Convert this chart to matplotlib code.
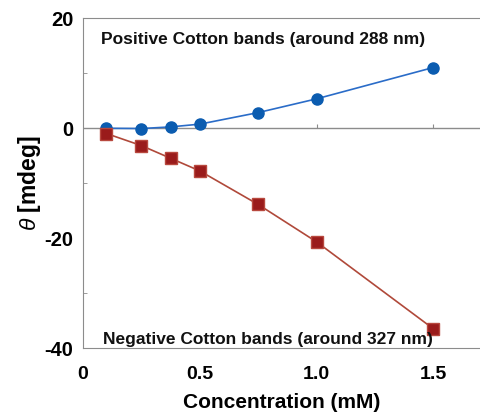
import matplotlib
matplotlib.use('Agg')
import matplotlib.pyplot as plt
from matplotlib.ticker import MultipleLocator

plt.rcParams['font.family'] = ['Liberation Sans', 'DejaVu Sans']
plt.rcParams['font.weight'] = 'bold'
plt.rcParams['axes.unicode_minus'] = False
plt.rcParams['mathtext.fontset'] = 'custom'
plt.rcParams['mathtext.it'] = 'Liberation Sans:italic:weight=normal'
plt.rcParams['mathtext.rm'] = 'Liberation Sans:weight=normal'
plt.rcParams['mathtext.bf'] = 'Liberation Sans:weight=bold'

# data
conc = [0.1, 0.25, 0.375, 0.5, 0.75, 1.0, 1.5]
positive = [-0.05, -0.1, 0.2, 0.7, 2.8, 5.3, 11.0]
negative = [-1.0, -3.2, -5.5, -7.8, -13.9, -20.7, -36.5]
xticks = [0, 0.5, 1.0, 1.5]
xticklabels = ['0', '0.5', '1.0', '1.5']
yticks = [-40, -20, 0, 20]

fig = plt.figure(figsize=(4.8, 4.12), dpi=100)
ax = fig.add_axes([83/480, 1-348/412, (480-83)/480, (348-18)/412])

gray = '#8c8c8c'
ax.axhline(0, color=gray, lw=1, zorder=1)

ax.plot(conc, positive, color='#2a6cc8', lw=1.2, marker='o', ms=8,
        mfc='#0b5cb0', mec='#0b5cb0', zorder=3)
ax.plot(conc, negative, color='#b0493a', lw=1.2, marker='s', ms=8,
        mfc='#9a1b1b', mec='#b8483e', zorder=3)

ax.set_xlim(0, 1.7)
ax.set_ylim(-40, 20)
ax.set_xticks(xticks)
ax.set_xticklabels(xticklabels)
ax.set_yticks(yticks)
ax.yaxis.set_minor_locator(MultipleLocator(10))
ax.tick_params(axis='x', length=0, labelsize=14, pad=13)
ax.tick_params(axis='y', which='major', length=0, labelsize=14.5, pad=7)
ax.tick_params(axis='y', which='minor', direction='in', length=3, color=gray)

# ticks on the zero line
sec = ax.secondary_xaxis(40/60)
for s in sec.spines.values():
    s.set_visible(False)
sec.set_xticks(xticks[1:])
sec.tick_params(direction='out', length=3, color=gray,
                labeltop=False, labelbottom=False)

for s in ['left', 'top', 'bottom']:
    ax.spines[s].set_color(gray)
ax.spines['right'].set_visible(False)

ax.set_xlabel('Concentration (mM)', fontsize=15, fontweight='bold', labelpad=7)
ax.set_ylabel(r'$\theta\ \mathbf{[mdeg]}$', fontsize=16.5, fontweight='normal',
              labelpad=1)

ax.text(0.077, 15.2, 'Positive Cotton bands (around 288 nm)', fontsize=12.5,
        fontweight='bold', color='#111111')
ax.text(0.085, -39.2, 'Negative Cotton bands (around 327 nm)', fontsize=12.5,
        fontweight='bold', color='#111111')

fig.savefig('out.png', dpi=100)
